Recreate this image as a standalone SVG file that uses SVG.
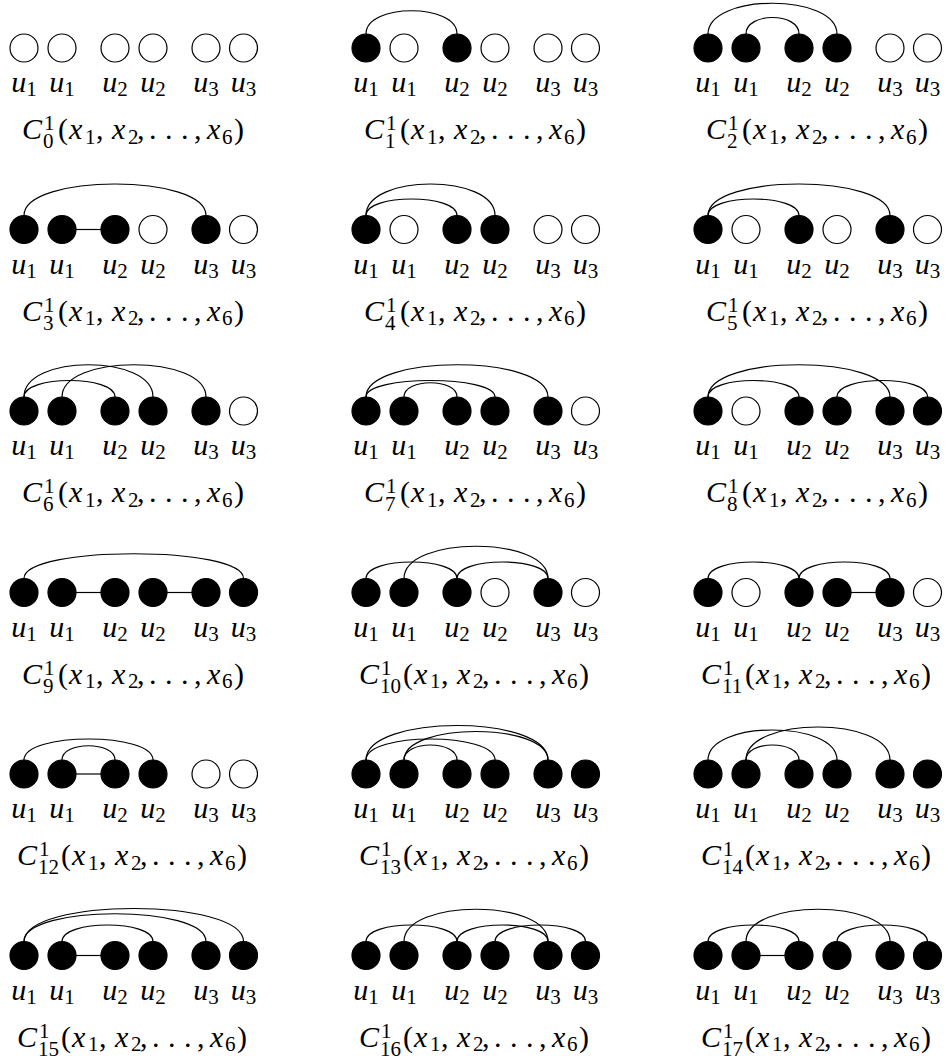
<svg xmlns="http://www.w3.org/2000/svg" width="945" height="1059" viewBox="0 0 945 1059">
<style>
.n{fill:#fff;stroke:#000;stroke-width:1.2}
.f{fill:#000;stroke:#000;stroke-width:1.2}
.e{fill:none;stroke:#000;stroke-width:1.2}
.t{font-family:"Liberation Serif","DejaVu Serif",serif;font-size:30px;fill:#000}
.l{text-anchor:middle}
.i{font-style:italic}
.s{font-size:21px}
</style>
<rect width="945" height="1059" fill="#fff"/>
<g id="connectors">
<g transform="translate(342,0)"><path class="e" d="M24 34C24 3 115 3 115 34"/></g>
<g transform="translate(684,0)"><path class="e" d="M24 34C24 -7 153 -7 153 34"/><path class="e" d="M62 34C62 12 115 12 115 34"/></g>
<g transform="translate(0,181.5)"><path class="e" d="M24 34C24 -8 206 -8 206 34"/><path class="e" d="M76 48H101"/></g>
<g transform="translate(342,181.5)"><path class="e" d="M24 34C24 12 115 12 115 34"/><path class="e" d="M24 34C24 -8 153 -8 153 34"/></g>
<g transform="translate(684,181.5)"><path class="e" d="M24 34C24 12 115 12 115 34"/><path class="e" d="M24 34C24 -8 206 -8 206 34"/></g>
<g transform="translate(0,363)"><path class="e" d="M24 34C24 12 115 12 115 34"/><path class="e" d="M24 34C24 -9 153 -9 153 34"/><path class="e" d="M62 34C62 -9 206 -9 206 34"/></g>
<g transform="translate(342,363)"><path class="e" d="M24 34C24 -9 206 -9 206 34"/><path class="e" d="M24 34C24 12 153 12 153 34"/><path class="e" d="M62 34C62 15 115 15 115 34"/></g>
<g transform="translate(684,363)"><path class="e" d="M24 34C24 12 115 12 115 34"/><path class="e" d="M24 34C24 -9 206 -9 206 34"/><path class="e" d="M153 34C153 12 243.5 12 243.5 34"/></g>
<g transform="translate(0,544.5)"><path class="e" d="M24 34C24 1 243.5 1 243.5 34"/><path class="e" d="M76 48H101"/><path class="e" d="M167 48H192"/></g>
<g transform="translate(342,544.5)"><path class="e" d="M24 34C24 12 115 12 115 34"/><path class="e" d="M62 34C62 -9 206 -9 206 34"/><path class="e" d="M115 34C115 12 206 12 206 34"/></g>
<g transform="translate(684,544.5)"><path class="e" d="M24 34C24 12 115 12 115 34"/><path class="e" d="M115 34C115 12 206 12 206 34"/><path class="e" d="M167 48H192"/></g>
<g transform="translate(0,726)"><path class="e" d="M24 34C24 6 153 6 153 34"/><path class="e" d="M62 34C62 15 115 15 115 34"/><path class="e" d="M76 48H101"/></g>
<g transform="translate(342,726)"><path class="e" d="M24 34C24 -12 206 -12 206 34"/><path class="e" d="M62 34C62 -4 206 -4 206 34"/><path class="e" d="M24 34C24 6 153 6 153 34"/><path class="e" d="M62 34C62 14 115 14 115 34"/></g>
<g transform="translate(684,726)"><path class="e" d="M24 34C24 -6 153 -6 153 34"/><path class="e" d="M62 34C62 -10 206 -10 206 34"/><path class="e" d="M62 34C62 14 115 14 115 34"/></g>
<g transform="translate(0,907.5)"><path class="e" d="M24 34C24 -10 243.5 -10 243.5 34"/><path class="e" d="M24 34C24 -3 206 -3 206 34"/><path class="e" d="M62 34C62 12 153 12 153 34"/><path class="e" d="M76 48H101"/></g>
<g transform="translate(342,907.5)"><path class="e" d="M24 34C24 12 115 12 115 34"/><path class="e" d="M62 34C62 -9 206 -9 206 34"/><path class="e" d="M115 34C115 12 206 12 206 34"/><path class="e" d="M153 34C153 12 243.5 12 243.5 34"/></g>
<g transform="translate(684,907.5)"><path class="e" d="M24 34C24 12 115 12 115 34"/><path class="e" d="M62 34C62 -9 206 -9 206 34"/><path class="e" d="M153 34C153 12 243.5 12 243.5 34"/><path class="e" d="M76 48H101"/></g>
</g>

<g id="C0" transform="translate(0,0)">
<circle class="n" cx="24" cy="48" r="14"/><circle class="n" cx="62" cy="48" r="14"/><circle class="n" cx="115" cy="48" r="14"/><circle class="n" cx="153" cy="48" r="14"/><circle class="n" cx="206" cy="48" r="14"/><circle class="n" cx="243.5" cy="48" r="14"/>
<text class="t l" x="24" y="92"><tspan class="i">u</tspan><tspan class="s" dy="4">1</tspan></text><text class="t l" x="62" y="92"><tspan class="i">u</tspan><tspan class="s" dy="4">1</tspan></text><text class="t l" x="115" y="92"><tspan class="i">u</tspan><tspan class="s" dy="4">2</tspan></text><text class="t l" x="153" y="92"><tspan class="i">u</tspan><tspan class="s" dy="4">2</tspan></text><text class="t l" x="206" y="92"><tspan class="i">u</tspan><tspan class="s" dy="4">3</tspan></text><text class="t l" x="243.5" y="92"><tspan class="i">u</tspan><tspan class="s" dy="4">3</tspan></text>
<text class="t" y="139"><tspan x="22" class="i">C</tspan><tspan x="44" y="130" class="s">1</tspan><tspan x="43" y="148" class="s">0</tspan><tspan x="58" y="139">(</tspan><tspan x="69" class="i">x</tspan><tspan x="85" y="143.5" class="s">1</tspan><tspan x="96" y="139">,</tspan><tspan x="112" class="i">x</tspan><tspan x="128" y="143.5" class="s">2</tspan><tspan x="137" y="139">,</tspan><tspan x="149">.</tspan><tspan x="165">.</tspan><tspan x="181">.</tspan><tspan x="194">,</tspan><tspan x="207" class="i">x</tspan><tspan x="222" y="143.5" class="s">6</tspan><tspan x="234" y="139">)</tspan></text>
</g>

<g id="C1" transform="translate(342,0)">
<circle class="f" cx="24" cy="48" r="14"/><circle class="n" cx="62" cy="48" r="14"/><circle class="f" cx="115" cy="48" r="14"/><circle class="n" cx="153" cy="48" r="14"/><circle class="n" cx="206" cy="48" r="14"/><circle class="n" cx="243.5" cy="48" r="14"/>
<text class="t l" x="24" y="92"><tspan class="i">u</tspan><tspan class="s" dy="4">1</tspan></text><text class="t l" x="62" y="92"><tspan class="i">u</tspan><tspan class="s" dy="4">1</tspan></text><text class="t l" x="115" y="92"><tspan class="i">u</tspan><tspan class="s" dy="4">2</tspan></text><text class="t l" x="153" y="92"><tspan class="i">u</tspan><tspan class="s" dy="4">2</tspan></text><text class="t l" x="206" y="92"><tspan class="i">u</tspan><tspan class="s" dy="4">3</tspan></text><text class="t l" x="243.5" y="92"><tspan class="i">u</tspan><tspan class="s" dy="4">3</tspan></text>
<text class="t" y="139"><tspan x="22" class="i">C</tspan><tspan x="44" y="130" class="s">1</tspan><tspan x="43" y="148" class="s">1</tspan><tspan x="58" y="139">(</tspan><tspan x="69" class="i">x</tspan><tspan x="85" y="143.5" class="s">1</tspan><tspan x="96" y="139">,</tspan><tspan x="112" class="i">x</tspan><tspan x="128" y="143.5" class="s">2</tspan><tspan x="137" y="139">,</tspan><tspan x="149">.</tspan><tspan x="165">.</tspan><tspan x="181">.</tspan><tspan x="194">,</tspan><tspan x="207" class="i">x</tspan><tspan x="222" y="143.5" class="s">6</tspan><tspan x="234" y="139">)</tspan></text>
</g>

<g id="C2" transform="translate(684,0)">
<circle class="f" cx="24" cy="48" r="14"/><circle class="f" cx="62" cy="48" r="14"/><circle class="f" cx="115" cy="48" r="14"/><circle class="f" cx="153" cy="48" r="14"/><circle class="n" cx="206" cy="48" r="14"/><circle class="n" cx="243.5" cy="48" r="14"/>
<text class="t l" x="24" y="92"><tspan class="i">u</tspan><tspan class="s" dy="4">1</tspan></text><text class="t l" x="62" y="92"><tspan class="i">u</tspan><tspan class="s" dy="4">1</tspan></text><text class="t l" x="115" y="92"><tspan class="i">u</tspan><tspan class="s" dy="4">2</tspan></text><text class="t l" x="153" y="92"><tspan class="i">u</tspan><tspan class="s" dy="4">2</tspan></text><text class="t l" x="206" y="92"><tspan class="i">u</tspan><tspan class="s" dy="4">3</tspan></text><text class="t l" x="243.5" y="92"><tspan class="i">u</tspan><tspan class="s" dy="4">3</tspan></text>
<text class="t" y="139"><tspan x="22" class="i">C</tspan><tspan x="44" y="130" class="s">1</tspan><tspan x="43" y="148" class="s">2</tspan><tspan x="58" y="139">(</tspan><tspan x="69" class="i">x</tspan><tspan x="85" y="143.5" class="s">1</tspan><tspan x="96" y="139">,</tspan><tspan x="112" class="i">x</tspan><tspan x="128" y="143.5" class="s">2</tspan><tspan x="137" y="139">,</tspan><tspan x="149">.</tspan><tspan x="165">.</tspan><tspan x="181">.</tspan><tspan x="194">,</tspan><tspan x="207" class="i">x</tspan><tspan x="222" y="143.5" class="s">6</tspan><tspan x="234" y="139">)</tspan></text>
</g>

<g id="C3" transform="translate(0,181.5)">
<circle class="f" cx="24" cy="48" r="14"/><circle class="f" cx="62" cy="48" r="14"/><circle class="f" cx="115" cy="48" r="14"/><circle class="n" cx="153" cy="48" r="14"/><circle class="f" cx="206" cy="48" r="14"/><circle class="n" cx="243.5" cy="48" r="14"/>
<text class="t l" x="24" y="92"><tspan class="i">u</tspan><tspan class="s" dy="4">1</tspan></text><text class="t l" x="62" y="92"><tspan class="i">u</tspan><tspan class="s" dy="4">1</tspan></text><text class="t l" x="115" y="92"><tspan class="i">u</tspan><tspan class="s" dy="4">2</tspan></text><text class="t l" x="153" y="92"><tspan class="i">u</tspan><tspan class="s" dy="4">2</tspan></text><text class="t l" x="206" y="92"><tspan class="i">u</tspan><tspan class="s" dy="4">3</tspan></text><text class="t l" x="243.5" y="92"><tspan class="i">u</tspan><tspan class="s" dy="4">3</tspan></text>
<text class="t" y="139"><tspan x="22" class="i">C</tspan><tspan x="44" y="130" class="s">1</tspan><tspan x="43" y="148" class="s">3</tspan><tspan x="58" y="139">(</tspan><tspan x="69" class="i">x</tspan><tspan x="85" y="143.5" class="s">1</tspan><tspan x="96" y="139">,</tspan><tspan x="112" class="i">x</tspan><tspan x="128" y="143.5" class="s">2</tspan><tspan x="137" y="139">,</tspan><tspan x="149">.</tspan><tspan x="165">.</tspan><tspan x="181">.</tspan><tspan x="194">,</tspan><tspan x="207" class="i">x</tspan><tspan x="222" y="143.5" class="s">6</tspan><tspan x="234" y="139">)</tspan></text>
</g>

<g id="C4" transform="translate(342,181.5)">
<circle class="f" cx="24" cy="48" r="14"/><circle class="n" cx="62" cy="48" r="14"/><circle class="f" cx="115" cy="48" r="14"/><circle class="f" cx="153" cy="48" r="14"/><circle class="n" cx="206" cy="48" r="14"/><circle class="n" cx="243.5" cy="48" r="14"/>
<text class="t l" x="24" y="92"><tspan class="i">u</tspan><tspan class="s" dy="4">1</tspan></text><text class="t l" x="62" y="92"><tspan class="i">u</tspan><tspan class="s" dy="4">1</tspan></text><text class="t l" x="115" y="92"><tspan class="i">u</tspan><tspan class="s" dy="4">2</tspan></text><text class="t l" x="153" y="92"><tspan class="i">u</tspan><tspan class="s" dy="4">2</tspan></text><text class="t l" x="206" y="92"><tspan class="i">u</tspan><tspan class="s" dy="4">3</tspan></text><text class="t l" x="243.5" y="92"><tspan class="i">u</tspan><tspan class="s" dy="4">3</tspan></text>
<text class="t" y="139"><tspan x="22" class="i">C</tspan><tspan x="44" y="130" class="s">1</tspan><tspan x="43" y="148" class="s">4</tspan><tspan x="58" y="139">(</tspan><tspan x="69" class="i">x</tspan><tspan x="85" y="143.5" class="s">1</tspan><tspan x="96" y="139">,</tspan><tspan x="112" class="i">x</tspan><tspan x="128" y="143.5" class="s">2</tspan><tspan x="137" y="139">,</tspan><tspan x="149">.</tspan><tspan x="165">.</tspan><tspan x="181">.</tspan><tspan x="194">,</tspan><tspan x="207" class="i">x</tspan><tspan x="222" y="143.5" class="s">6</tspan><tspan x="234" y="139">)</tspan></text>
</g>

<g id="C5" transform="translate(684,181.5)">
<circle class="f" cx="24" cy="48" r="14"/><circle class="n" cx="62" cy="48" r="14"/><circle class="f" cx="115" cy="48" r="14"/><circle class="n" cx="153" cy="48" r="14"/><circle class="f" cx="206" cy="48" r="14"/><circle class="n" cx="243.5" cy="48" r="14"/>
<text class="t l" x="24" y="92"><tspan class="i">u</tspan><tspan class="s" dy="4">1</tspan></text><text class="t l" x="62" y="92"><tspan class="i">u</tspan><tspan class="s" dy="4">1</tspan></text><text class="t l" x="115" y="92"><tspan class="i">u</tspan><tspan class="s" dy="4">2</tspan></text><text class="t l" x="153" y="92"><tspan class="i">u</tspan><tspan class="s" dy="4">2</tspan></text><text class="t l" x="206" y="92"><tspan class="i">u</tspan><tspan class="s" dy="4">3</tspan></text><text class="t l" x="243.5" y="92"><tspan class="i">u</tspan><tspan class="s" dy="4">3</tspan></text>
<text class="t" y="139"><tspan x="22" class="i">C</tspan><tspan x="44" y="130" class="s">1</tspan><tspan x="43" y="148" class="s">5</tspan><tspan x="58" y="139">(</tspan><tspan x="69" class="i">x</tspan><tspan x="85" y="143.5" class="s">1</tspan><tspan x="96" y="139">,</tspan><tspan x="112" class="i">x</tspan><tspan x="128" y="143.5" class="s">2</tspan><tspan x="137" y="139">,</tspan><tspan x="149">.</tspan><tspan x="165">.</tspan><tspan x="181">.</tspan><tspan x="194">,</tspan><tspan x="207" class="i">x</tspan><tspan x="222" y="143.5" class="s">6</tspan><tspan x="234" y="139">)</tspan></text>
</g>

<g id="C6" transform="translate(0,363)">
<circle class="f" cx="24" cy="48" r="14"/><circle class="f" cx="62" cy="48" r="14"/><circle class="f" cx="115" cy="48" r="14"/><circle class="f" cx="153" cy="48" r="14"/><circle class="f" cx="206" cy="48" r="14"/><circle class="n" cx="243.5" cy="48" r="14"/>
<text class="t l" x="24" y="92"><tspan class="i">u</tspan><tspan class="s" dy="4">1</tspan></text><text class="t l" x="62" y="92"><tspan class="i">u</tspan><tspan class="s" dy="4">1</tspan></text><text class="t l" x="115" y="92"><tspan class="i">u</tspan><tspan class="s" dy="4">2</tspan></text><text class="t l" x="153" y="92"><tspan class="i">u</tspan><tspan class="s" dy="4">2</tspan></text><text class="t l" x="206" y="92"><tspan class="i">u</tspan><tspan class="s" dy="4">3</tspan></text><text class="t l" x="243.5" y="92"><tspan class="i">u</tspan><tspan class="s" dy="4">3</tspan></text>
<text class="t" y="139"><tspan x="22" class="i">C</tspan><tspan x="44" y="130" class="s">1</tspan><tspan x="43" y="148" class="s">6</tspan><tspan x="58" y="139">(</tspan><tspan x="69" class="i">x</tspan><tspan x="85" y="143.5" class="s">1</tspan><tspan x="96" y="139">,</tspan><tspan x="112" class="i">x</tspan><tspan x="128" y="143.5" class="s">2</tspan><tspan x="137" y="139">,</tspan><tspan x="149">.</tspan><tspan x="165">.</tspan><tspan x="181">.</tspan><tspan x="194">,</tspan><tspan x="207" class="i">x</tspan><tspan x="222" y="143.5" class="s">6</tspan><tspan x="234" y="139">)</tspan></text>
</g>

<g id="C7" transform="translate(342,363)">
<circle class="f" cx="24" cy="48" r="14"/><circle class="f" cx="62" cy="48" r="14"/><circle class="f" cx="115" cy="48" r="14"/><circle class="f" cx="153" cy="48" r="14"/><circle class="f" cx="206" cy="48" r="14"/><circle class="n" cx="243.5" cy="48" r="14"/>
<text class="t l" x="24" y="92"><tspan class="i">u</tspan><tspan class="s" dy="4">1</tspan></text><text class="t l" x="62" y="92"><tspan class="i">u</tspan><tspan class="s" dy="4">1</tspan></text><text class="t l" x="115" y="92"><tspan class="i">u</tspan><tspan class="s" dy="4">2</tspan></text><text class="t l" x="153" y="92"><tspan class="i">u</tspan><tspan class="s" dy="4">2</tspan></text><text class="t l" x="206" y="92"><tspan class="i">u</tspan><tspan class="s" dy="4">3</tspan></text><text class="t l" x="243.5" y="92"><tspan class="i">u</tspan><tspan class="s" dy="4">3</tspan></text>
<text class="t" y="139"><tspan x="22" class="i">C</tspan><tspan x="44" y="130" class="s">1</tspan><tspan x="43" y="148" class="s">7</tspan><tspan x="58" y="139">(</tspan><tspan x="69" class="i">x</tspan><tspan x="85" y="143.5" class="s">1</tspan><tspan x="96" y="139">,</tspan><tspan x="112" class="i">x</tspan><tspan x="128" y="143.5" class="s">2</tspan><tspan x="137" y="139">,</tspan><tspan x="149">.</tspan><tspan x="165">.</tspan><tspan x="181">.</tspan><tspan x="194">,</tspan><tspan x="207" class="i">x</tspan><tspan x="222" y="143.5" class="s">6</tspan><tspan x="234" y="139">)</tspan></text>
</g>

<g id="C8" transform="translate(684,363)">
<circle class="f" cx="24" cy="48" r="14"/><circle class="n" cx="62" cy="48" r="14"/><circle class="f" cx="115" cy="48" r="14"/><circle class="f" cx="153" cy="48" r="14"/><circle class="f" cx="206" cy="48" r="14"/><circle class="f" cx="243.5" cy="48" r="14"/>
<text class="t l" x="24" y="92"><tspan class="i">u</tspan><tspan class="s" dy="4">1</tspan></text><text class="t l" x="62" y="92"><tspan class="i">u</tspan><tspan class="s" dy="4">1</tspan></text><text class="t l" x="115" y="92"><tspan class="i">u</tspan><tspan class="s" dy="4">2</tspan></text><text class="t l" x="153" y="92"><tspan class="i">u</tspan><tspan class="s" dy="4">2</tspan></text><text class="t l" x="206" y="92"><tspan class="i">u</tspan><tspan class="s" dy="4">3</tspan></text><text class="t l" x="243.5" y="92"><tspan class="i">u</tspan><tspan class="s" dy="4">3</tspan></text>
<text class="t" y="139"><tspan x="22" class="i">C</tspan><tspan x="44" y="130" class="s">1</tspan><tspan x="43" y="148" class="s">8</tspan><tspan x="58" y="139">(</tspan><tspan x="69" class="i">x</tspan><tspan x="85" y="143.5" class="s">1</tspan><tspan x="96" y="139">,</tspan><tspan x="112" class="i">x</tspan><tspan x="128" y="143.5" class="s">2</tspan><tspan x="137" y="139">,</tspan><tspan x="149">.</tspan><tspan x="165">.</tspan><tspan x="181">.</tspan><tspan x="194">,</tspan><tspan x="207" class="i">x</tspan><tspan x="222" y="143.5" class="s">6</tspan><tspan x="234" y="139">)</tspan></text>
</g>

<g id="C9" transform="translate(0,544.5)">
<circle class="f" cx="24" cy="48" r="14"/><circle class="f" cx="62" cy="48" r="14"/><circle class="f" cx="115" cy="48" r="14"/><circle class="f" cx="153" cy="48" r="14"/><circle class="f" cx="206" cy="48" r="14"/><circle class="f" cx="243.5" cy="48" r="14"/>
<text class="t l" x="24" y="92"><tspan class="i">u</tspan><tspan class="s" dy="4">1</tspan></text><text class="t l" x="62" y="92"><tspan class="i">u</tspan><tspan class="s" dy="4">1</tspan></text><text class="t l" x="115" y="92"><tspan class="i">u</tspan><tspan class="s" dy="4">2</tspan></text><text class="t l" x="153" y="92"><tspan class="i">u</tspan><tspan class="s" dy="4">2</tspan></text><text class="t l" x="206" y="92"><tspan class="i">u</tspan><tspan class="s" dy="4">3</tspan></text><text class="t l" x="243.5" y="92"><tspan class="i">u</tspan><tspan class="s" dy="4">3</tspan></text>
<text class="t" y="139"><tspan x="22" class="i">C</tspan><tspan x="44" y="130" class="s">1</tspan><tspan x="43" y="148" class="s">9</tspan><tspan x="58" y="139">(</tspan><tspan x="69" class="i">x</tspan><tspan x="85" y="143.5" class="s">1</tspan><tspan x="96" y="139">,</tspan><tspan x="112" class="i">x</tspan><tspan x="128" y="143.5" class="s">2</tspan><tspan x="137" y="139">,</tspan><tspan x="149">.</tspan><tspan x="165">.</tspan><tspan x="181">.</tspan><tspan x="194">,</tspan><tspan x="207" class="i">x</tspan><tspan x="222" y="143.5" class="s">6</tspan><tspan x="234" y="139">)</tspan></text>
</g>

<g id="C10" transform="translate(342,544.5)">
<circle class="f" cx="24" cy="48" r="14"/><circle class="f" cx="62" cy="48" r="14"/><circle class="f" cx="115" cy="48" r="14"/><circle class="n" cx="153" cy="48" r="14"/><circle class="f" cx="206" cy="48" r="14"/><circle class="n" cx="243.5" cy="48" r="14"/>
<text class="t l" x="24" y="92"><tspan class="i">u</tspan><tspan class="s" dy="4">1</tspan></text><text class="t l" x="62" y="92"><tspan class="i">u</tspan><tspan class="s" dy="4">1</tspan></text><text class="t l" x="115" y="92"><tspan class="i">u</tspan><tspan class="s" dy="4">2</tspan></text><text class="t l" x="153" y="92"><tspan class="i">u</tspan><tspan class="s" dy="4">2</tspan></text><text class="t l" x="206" y="92"><tspan class="i">u</tspan><tspan class="s" dy="4">3</tspan></text><text class="t l" x="243.5" y="92"><tspan class="i">u</tspan><tspan class="s" dy="4">3</tspan></text>
<text class="t" y="139"><tspan x="17" class="i">C</tspan><tspan x="39" y="130" class="s">1</tspan><tspan x="38" y="148" class="s">10</tspan><tspan x="61" y="139">(</tspan><tspan x="72" class="i">x</tspan><tspan x="88" y="143.5" class="s">1</tspan><tspan x="99" y="139">,</tspan><tspan x="115" class="i">x</tspan><tspan x="131" y="143.5" class="s">2</tspan><tspan x="140" y="139">,</tspan><tspan x="152">.</tspan><tspan x="168">.</tspan><tspan x="184">.</tspan><tspan x="197">,</tspan><tspan x="210" class="i">x</tspan><tspan x="225" y="143.5" class="s">6</tspan><tspan x="237" y="139">)</tspan></text>
</g>

<g id="C11" transform="translate(684,544.5)">
<circle class="f" cx="24" cy="48" r="14"/><circle class="n" cx="62" cy="48" r="14"/><circle class="f" cx="115" cy="48" r="14"/><circle class="f" cx="153" cy="48" r="14"/><circle class="f" cx="206" cy="48" r="14"/><circle class="n" cx="243.5" cy="48" r="14"/>
<text class="t l" x="24" y="92"><tspan class="i">u</tspan><tspan class="s" dy="4">1</tspan></text><text class="t l" x="62" y="92"><tspan class="i">u</tspan><tspan class="s" dy="4">1</tspan></text><text class="t l" x="115" y="92"><tspan class="i">u</tspan><tspan class="s" dy="4">2</tspan></text><text class="t l" x="153" y="92"><tspan class="i">u</tspan><tspan class="s" dy="4">2</tspan></text><text class="t l" x="206" y="92"><tspan class="i">u</tspan><tspan class="s" dy="4">3</tspan></text><text class="t l" x="243.5" y="92"><tspan class="i">u</tspan><tspan class="s" dy="4">3</tspan></text>
<text class="t" y="139"><tspan x="17" class="i">C</tspan><tspan x="39" y="130" class="s">1</tspan><tspan x="38" y="148" class="s">11</tspan><tspan x="61" y="139">(</tspan><tspan x="72" class="i">x</tspan><tspan x="88" y="143.5" class="s">1</tspan><tspan x="99" y="139">,</tspan><tspan x="115" class="i">x</tspan><tspan x="131" y="143.5" class="s">2</tspan><tspan x="140" y="139">,</tspan><tspan x="152">.</tspan><tspan x="168">.</tspan><tspan x="184">.</tspan><tspan x="197">,</tspan><tspan x="210" class="i">x</tspan><tspan x="225" y="143.5" class="s">6</tspan><tspan x="237" y="139">)</tspan></text>
</g>

<g id="C12" transform="translate(0,726)">
<circle class="f" cx="24" cy="48" r="14"/><circle class="f" cx="62" cy="48" r="14"/><circle class="f" cx="115" cy="48" r="14"/><circle class="f" cx="153" cy="48" r="14"/><circle class="n" cx="206" cy="48" r="14"/><circle class="n" cx="243.5" cy="48" r="14"/>
<text class="t l" x="24" y="92"><tspan class="i">u</tspan><tspan class="s" dy="4">1</tspan></text><text class="t l" x="62" y="92"><tspan class="i">u</tspan><tspan class="s" dy="4">1</tspan></text><text class="t l" x="115" y="92"><tspan class="i">u</tspan><tspan class="s" dy="4">2</tspan></text><text class="t l" x="153" y="92"><tspan class="i">u</tspan><tspan class="s" dy="4">2</tspan></text><text class="t l" x="206" y="92"><tspan class="i">u</tspan><tspan class="s" dy="4">3</tspan></text><text class="t l" x="243.5" y="92"><tspan class="i">u</tspan><tspan class="s" dy="4">3</tspan></text>
<text class="t" y="139"><tspan x="17" class="i">C</tspan><tspan x="39" y="130" class="s">1</tspan><tspan x="38" y="148" class="s">12</tspan><tspan x="61" y="139">(</tspan><tspan x="72" class="i">x</tspan><tspan x="88" y="143.5" class="s">1</tspan><tspan x="99" y="139">,</tspan><tspan x="115" class="i">x</tspan><tspan x="131" y="143.5" class="s">2</tspan><tspan x="140" y="139">,</tspan><tspan x="152">.</tspan><tspan x="168">.</tspan><tspan x="184">.</tspan><tspan x="197">,</tspan><tspan x="210" class="i">x</tspan><tspan x="225" y="143.5" class="s">6</tspan><tspan x="237" y="139">)</tspan></text>
</g>

<g id="C13" transform="translate(342,726)">
<circle class="f" cx="24" cy="48" r="14"/><circle class="f" cx="62" cy="48" r="14"/><circle class="f" cx="115" cy="48" r="14"/><circle class="f" cx="153" cy="48" r="14"/><circle class="f" cx="206" cy="48" r="14"/><circle class="f" cx="243.5" cy="48" r="14"/>
<text class="t l" x="24" y="92"><tspan class="i">u</tspan><tspan class="s" dy="4">1</tspan></text><text class="t l" x="62" y="92"><tspan class="i">u</tspan><tspan class="s" dy="4">1</tspan></text><text class="t l" x="115" y="92"><tspan class="i">u</tspan><tspan class="s" dy="4">2</tspan></text><text class="t l" x="153" y="92"><tspan class="i">u</tspan><tspan class="s" dy="4">2</tspan></text><text class="t l" x="206" y="92"><tspan class="i">u</tspan><tspan class="s" dy="4">3</tspan></text><text class="t l" x="243.5" y="92"><tspan class="i">u</tspan><tspan class="s" dy="4">3</tspan></text>
<text class="t" y="139"><tspan x="17" class="i">C</tspan><tspan x="39" y="130" class="s">1</tspan><tspan x="38" y="148" class="s">13</tspan><tspan x="61" y="139">(</tspan><tspan x="72" class="i">x</tspan><tspan x="88" y="143.5" class="s">1</tspan><tspan x="99" y="139">,</tspan><tspan x="115" class="i">x</tspan><tspan x="131" y="143.5" class="s">2</tspan><tspan x="140" y="139">,</tspan><tspan x="152">.</tspan><tspan x="168">.</tspan><tspan x="184">.</tspan><tspan x="197">,</tspan><tspan x="210" class="i">x</tspan><tspan x="225" y="143.5" class="s">6</tspan><tspan x="237" y="139">)</tspan></text>
</g>

<g id="C14" transform="translate(684,726)">
<circle class="f" cx="24" cy="48" r="14"/><circle class="f" cx="62" cy="48" r="14"/><circle class="f" cx="115" cy="48" r="14"/><circle class="f" cx="153" cy="48" r="14"/><circle class="f" cx="206" cy="48" r="14"/><circle class="f" cx="243.5" cy="48" r="14"/>
<text class="t l" x="24" y="92"><tspan class="i">u</tspan><tspan class="s" dy="4">1</tspan></text><text class="t l" x="62" y="92"><tspan class="i">u</tspan><tspan class="s" dy="4">1</tspan></text><text class="t l" x="115" y="92"><tspan class="i">u</tspan><tspan class="s" dy="4">2</tspan></text><text class="t l" x="153" y="92"><tspan class="i">u</tspan><tspan class="s" dy="4">2</tspan></text><text class="t l" x="206" y="92"><tspan class="i">u</tspan><tspan class="s" dy="4">3</tspan></text><text class="t l" x="243.5" y="92"><tspan class="i">u</tspan><tspan class="s" dy="4">3</tspan></text>
<text class="t" y="139"><tspan x="17" class="i">C</tspan><tspan x="39" y="130" class="s">1</tspan><tspan x="38" y="148" class="s">14</tspan><tspan x="61" y="139">(</tspan><tspan x="72" class="i">x</tspan><tspan x="88" y="143.5" class="s">1</tspan><tspan x="99" y="139">,</tspan><tspan x="115" class="i">x</tspan><tspan x="131" y="143.5" class="s">2</tspan><tspan x="140" y="139">,</tspan><tspan x="152">.</tspan><tspan x="168">.</tspan><tspan x="184">.</tspan><tspan x="197">,</tspan><tspan x="210" class="i">x</tspan><tspan x="225" y="143.5" class="s">6</tspan><tspan x="237" y="139">)</tspan></text>
</g>

<g id="C15" transform="translate(0,907.5)">
<circle class="f" cx="24" cy="48" r="14"/><circle class="f" cx="62" cy="48" r="14"/><circle class="f" cx="115" cy="48" r="14"/><circle class="f" cx="153" cy="48" r="14"/><circle class="f" cx="206" cy="48" r="14"/><circle class="f" cx="243.5" cy="48" r="14"/>
<text class="t l" x="24" y="92"><tspan class="i">u</tspan><tspan class="s" dy="4">1</tspan></text><text class="t l" x="62" y="92"><tspan class="i">u</tspan><tspan class="s" dy="4">1</tspan></text><text class="t l" x="115" y="92"><tspan class="i">u</tspan><tspan class="s" dy="4">2</tspan></text><text class="t l" x="153" y="92"><tspan class="i">u</tspan><tspan class="s" dy="4">2</tspan></text><text class="t l" x="206" y="92"><tspan class="i">u</tspan><tspan class="s" dy="4">3</tspan></text><text class="t l" x="243.5" y="92"><tspan class="i">u</tspan><tspan class="s" dy="4">3</tspan></text>
<text class="t" y="139"><tspan x="17" class="i">C</tspan><tspan x="39" y="130" class="s">1</tspan><tspan x="38" y="148" class="s">15</tspan><tspan x="61" y="139">(</tspan><tspan x="72" class="i">x</tspan><tspan x="88" y="143.5" class="s">1</tspan><tspan x="99" y="139">,</tspan><tspan x="115" class="i">x</tspan><tspan x="131" y="143.5" class="s">2</tspan><tspan x="140" y="139">,</tspan><tspan x="152">.</tspan><tspan x="168">.</tspan><tspan x="184">.</tspan><tspan x="197">,</tspan><tspan x="210" class="i">x</tspan><tspan x="225" y="143.5" class="s">6</tspan><tspan x="237" y="139">)</tspan></text>
</g>

<g id="C16" transform="translate(342,907.5)">
<circle class="f" cx="24" cy="48" r="14"/><circle class="f" cx="62" cy="48" r="14"/><circle class="f" cx="115" cy="48" r="14"/><circle class="f" cx="153" cy="48" r="14"/><circle class="f" cx="206" cy="48" r="14"/><circle class="f" cx="243.5" cy="48" r="14"/>
<text class="t l" x="24" y="92"><tspan class="i">u</tspan><tspan class="s" dy="4">1</tspan></text><text class="t l" x="62" y="92"><tspan class="i">u</tspan><tspan class="s" dy="4">1</tspan></text><text class="t l" x="115" y="92"><tspan class="i">u</tspan><tspan class="s" dy="4">2</tspan></text><text class="t l" x="153" y="92"><tspan class="i">u</tspan><tspan class="s" dy="4">2</tspan></text><text class="t l" x="206" y="92"><tspan class="i">u</tspan><tspan class="s" dy="4">3</tspan></text><text class="t l" x="243.5" y="92"><tspan class="i">u</tspan><tspan class="s" dy="4">3</tspan></text>
<text class="t" y="139"><tspan x="17" class="i">C</tspan><tspan x="39" y="130" class="s">1</tspan><tspan x="38" y="148" class="s">16</tspan><tspan x="61" y="139">(</tspan><tspan x="72" class="i">x</tspan><tspan x="88" y="143.5" class="s">1</tspan><tspan x="99" y="139">,</tspan><tspan x="115" class="i">x</tspan><tspan x="131" y="143.5" class="s">2</tspan><tspan x="140" y="139">,</tspan><tspan x="152">.</tspan><tspan x="168">.</tspan><tspan x="184">.</tspan><tspan x="197">,</tspan><tspan x="210" class="i">x</tspan><tspan x="225" y="143.5" class="s">6</tspan><tspan x="237" y="139">)</tspan></text>
</g>

<g id="C17" transform="translate(684,907.5)">
<circle class="f" cx="24" cy="48" r="14"/><circle class="f" cx="62" cy="48" r="14"/><circle class="f" cx="115" cy="48" r="14"/><circle class="f" cx="153" cy="48" r="14"/><circle class="f" cx="206" cy="48" r="14"/><circle class="f" cx="243.5" cy="48" r="14"/>
<text class="t l" x="24" y="92"><tspan class="i">u</tspan><tspan class="s" dy="4">1</tspan></text><text class="t l" x="62" y="92"><tspan class="i">u</tspan><tspan class="s" dy="4">1</tspan></text><text class="t l" x="115" y="92"><tspan class="i">u</tspan><tspan class="s" dy="4">2</tspan></text><text class="t l" x="153" y="92"><tspan class="i">u</tspan><tspan class="s" dy="4">2</tspan></text><text class="t l" x="206" y="92"><tspan class="i">u</tspan><tspan class="s" dy="4">3</tspan></text><text class="t l" x="243.5" y="92"><tspan class="i">u</tspan><tspan class="s" dy="4">3</tspan></text>
<text class="t" y="139"><tspan x="17" class="i">C</tspan><tspan x="39" y="130" class="s">1</tspan><tspan x="38" y="148" class="s">17</tspan><tspan x="61" y="139">(</tspan><tspan x="72" class="i">x</tspan><tspan x="88" y="143.5" class="s">1</tspan><tspan x="99" y="139">,</tspan><tspan x="115" class="i">x</tspan><tspan x="131" y="143.5" class="s">2</tspan><tspan x="140" y="139">,</tspan><tspan x="152">.</tspan><tspan x="168">.</tspan><tspan x="184">.</tspan><tspan x="197">,</tspan><tspan x="210" class="i">x</tspan><tspan x="225" y="143.5" class="s">6</tspan><tspan x="237" y="139">)</tspan></text>
</g>
</svg>
